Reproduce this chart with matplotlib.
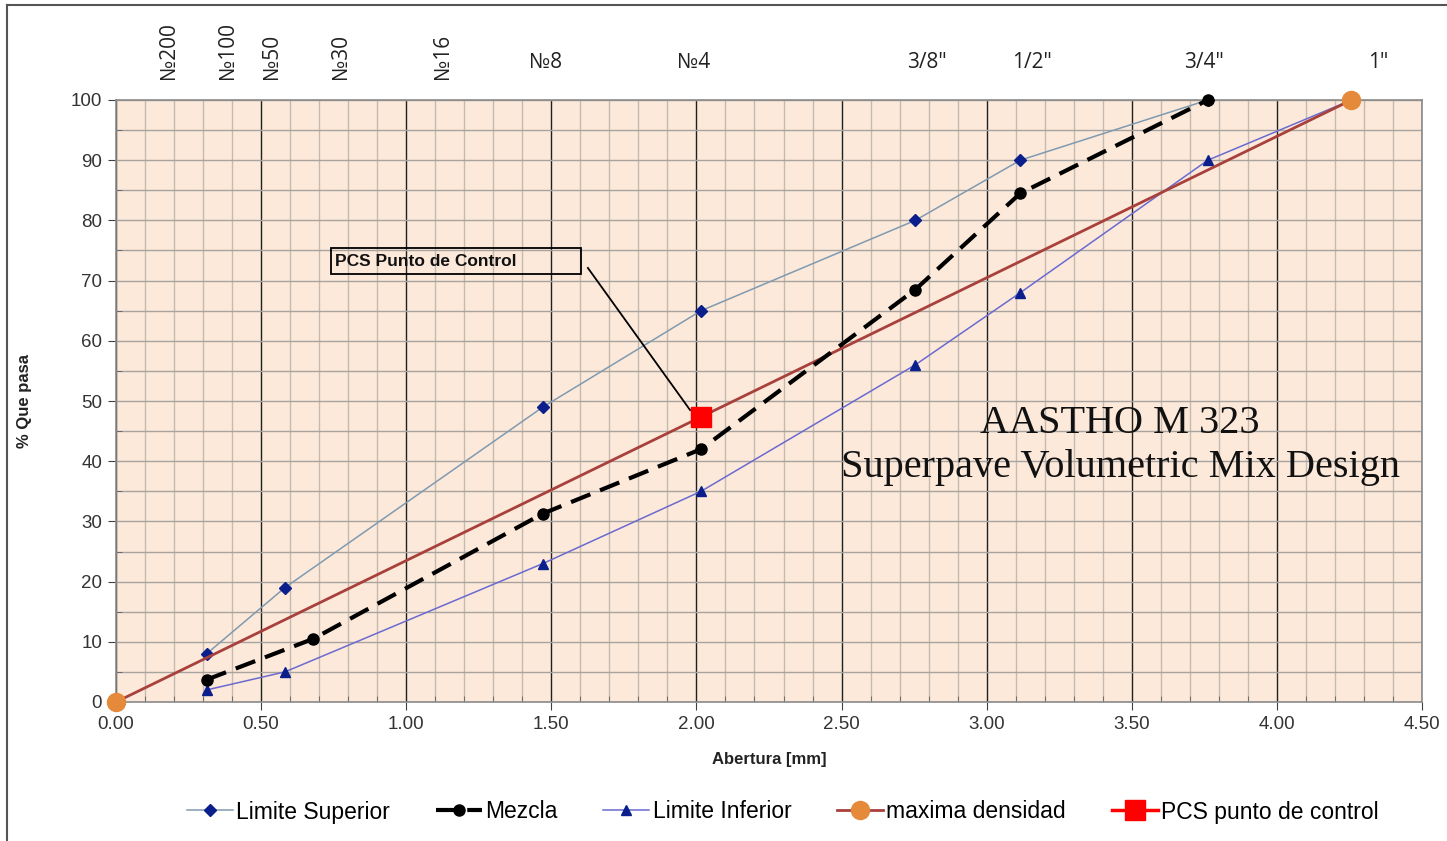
import numpy as np
from matplotlib import pyplot as plt
from matplotlib.lines import Line2D
from matplotlib.patches import Rectangle

# abertura elevada a 0.45 (grafico de potencia 0.45)
x_sup = [0.312, 0.582, 1.471, 2.016, 2.754, 3.116, 3.762]
y_sup = [8, 19, 49, 65, 80, 90, 100]

x_mez = [0.312, 0.680, 1.471, 2.016, 2.754, 3.116, 3.762]
y_mez = [3.7, 10.5, 31.3, 42.0, 68.5, 84.5, 100]

x_inf = [0.312, 0.582, 1.471, 2.016, 2.754, 3.116, 3.762, 4.257]
y_inf = [2, 5, 23, 35, 56, 68, 90, 100]

x_max = [0.0, 4.257]
y_max = [0, 100]

x_pcs = [2.016]
y_pcs = [47.4]

sieve_labels = ["№200", "№100", "№50", "№30", "№16", "№8", "№4", '3/8"', '1/2"', '3/4"', '1"']
label_x = [0.18, 0.385, 0.535, 0.775, 1.125, 1.48, 1.99, 2.795, 3.155, 3.75, 4.35]
label_rot = [90, 90, 90, 90, 90, 0, 0, 0, 0, 0, 0]

plt.rcParams['font.family'] = ['Liberation Sans', 'DejaVu Sans']

fig = plt.figure(figsize=(14.47, 8.41), dpi=100)
ax = fig.add_axes([116/1447, 1 - 702/841, (1422 - 116)/1447, (702 - 100)/841])
ax.set_facecolor('#FCE9DA')

ax.set_xlim(0, 4.5)
ax.set_ylim(0, 100)
ax.set_xticks(np.arange(0, 4.51, 0.5))
ax.set_xticks(np.arange(0, 4.51, 0.1), minor=True)
ax.set_yticks(np.arange(0, 101, 10))
ax.set_yticks(np.arange(0, 101, 5), minor=True)
ax.set_xticklabels([f"{v:.2f}" for v in np.arange(0, 4.51, 0.5)])
ax.tick_params(axis='both', which='major', direction='out', length=6, labelsize=13.5,
               color='#404040', labelcolor='#333333', pad=4)
ax.tick_params(axis='both', which='minor', direction='in', length=4, color='#606060')

ax.xaxis.grid(True, which='minor', color='#C4BAB0', lw=1.0)
ax.xaxis.grid(True, which='major', color='#202020', lw=1.0)
ax.yaxis.grid(True, which='both', color='#A8A39E', lw=1.0)
ax.set_axisbelow(True)
for s in ax.spines.values():
    s.set_color('#8A8A8A')
    s.set_linewidth(1.2)

ax.plot(x_sup, y_sup, color='#7F9AB0', lw=1.1, marker='D', ms=6, mfc='#0B1F8C', mec='#0B1F8C',
        label='Limite Superior', zorder=3)
ax.plot(x_mez, y_mez, color='black', lw=3, ls=(0, (5, 2.5)), marker='o', ms=8, mfc='black',
        mec='black', label='Mezcla', zorder=5, clip_on=False)
ax.plot(x_inf, y_inf, color='#6A6AD0', lw=1.1, marker='^', ms=6.5, mfc='#0B1F8C', mec='#0B1F8C',
        label='Limite Inferior', zorder=3)
ax.plot(x_max, y_max, color='#A8403C', lw=2, marker='o', ms=13, mfc='#E58A3A', mec='#E58A3A',
        label='maxima densidad', zorder=4, clip_on=False)
ax.plot(x_pcs, y_pcs, color='red', lw=2.5, marker='s', ms=14, mfc='red', mec='red',
        label='PCS punto de control', zorder=6)

# etiqueta punto de control
ax.add_patch(Rectangle((0.741, 71.1), 0.861, 4.3, fill=False, ec='black', lw=1.3, zorder=6))
ax.text(0.755, 73.25, "PCS Punto de Control", fontsize=12.5, fontweight='bold', va='center',
        ha='left', color='#111111', zorder=6)
ax.plot([1.626, 1.978], [72.1, 48.5], color='black', lw=1.3, zorder=6)

ax.text(3.46, 46.3, "AASTHO M 323", family='Liberation Serif', fontsize=29, ha='center',
        va='center', color='#111111', zorder=7)
ax.text(3.46, 38.9, "Superpave Volumetric Mix Design", family='Liberation Serif', fontsize=29,
        ha='center', va='center', color='#111111', zorder=7)

for lab, lx, rot in zip(sieve_labels, label_x, label_rot):
    if rot:
        ax.text(lx, 103.5, lab, rotation=90, ha='center', va='bottom', fontsize=15,
                family=['Open Sans', 'DejaVu Sans'], color='#222222')
    else:
        ax.text(lx, 104.5, lab, ha='center', va='bottom', fontsize=15,
                family=['Open Sans', 'DejaVu Sans'], color='#222222')

ax.set_xlabel("Abertura [mm]", fontsize=12, fontweight='bold', labelpad=14, color='#222222')
ax.set_ylabel("% Que pasa", fontsize=12, fontweight='bold', labelpad=28, color='#222222')

fig.legend(loc='center', bbox_to_anchor=(0.541, 1 - 812/841), ncol=5, frameon=False,
           fontsize=16.5, handlelength=2.0, handletextpad=0.15, columnspacing=2.0)

# marco de la figura
fig.add_artist(Line2D([7/1447, 7/1447], [0, 1 - 5/841], color='#555555', lw=1.5))
fig.add_artist(Line2D([7/1447, 1], [1 - 5/841, 1 - 5/841], color='#555555', lw=1.5))

fig.savefig("out.png", dpi=100)
